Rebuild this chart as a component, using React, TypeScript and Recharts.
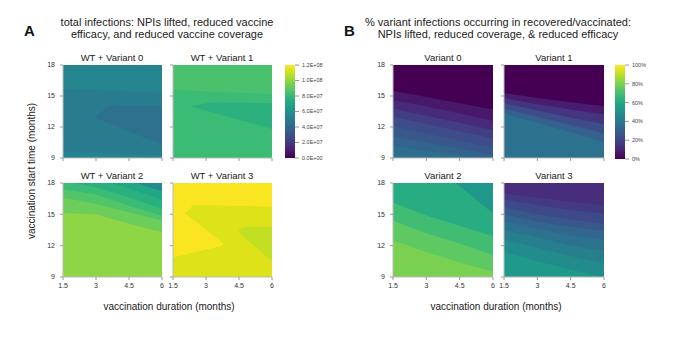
import { ComposedChart, Area, Bar, XAxis, YAxis, CartesianGrid } from 'recharts';

type Cell = number | [number, number] | null;

const durations = [1.5, 3, 4.5, 6];
const startTimes = [9, 12, 15, 18];
const viridis = ['#440154', '#482475', '#414487', '#355f8d', '#2a788e', '#21918c', '#22a884', '#44bf70', '#7ad151', '#bddf26', '#fde725'];

// colour bar ticks
const infectionTicks = [0, 2e7, 4e7, 6e7, 8e7, 1e8, 1.2e8];
const shareTicks = [0, 20, 40, 60, 80, 100];

// A: WT + Variant 0 (contour lines as start time per duration; ranged cells are closed regions)
const a0Durations = [1.5, 2.95, 3.6, 6];
const a0Upper: Cell[] = [15.7, 15.6, 15.5, 15.3];
const a0Floor: Cell[] = [9.6, 9.5, 9.45, 9.3];
const a0Core: Cell[] = [null, [12.9, 12.9], [12.35, 14.1], [10.3, 14.0]];

// A: WT + Variant 1
const a1Durations = [1.5, 2.26, 3.3, 6];
const a1Upper: Cell[] = [15.6, 15.5, 15.4, 15.2];
const a1Core: Cell[] = [null, [14.0, 14.0], [13.4, 14.4], [11.8, 14.3]];

// A: WT + Variant 2
const a2Contours: Cell[][] = [
  [19.5, 19.0, 18.2, 17.2],
  [18.8, 18.4, 17.5, 16.4],
  [18.2, 17.6, 16.6, 15.5],
  [17.4, 16.9, 15.8, 14.9],
  [16.6, 16.0, 15.2, 14.4],
  [15.1, 15.0, 14.1, 13.3],
];

// A: WT + Variant 3
const a3Durations = [1.5, 2.05, 2.42, 3.7, 3.8, 4.47, 4.62, 4.85, 6];
const a3Lower: Cell[] = [10.9, 11.15, 11.35, 11.95, 12.25, 12.5, 12.5, 12.5, 12.5];
const a3Middle: Cell[] = [null, [15.1, 15.1], [14.5, 15.9], [12.35, 15.85], [12.2, 15.85], [12.2, 15.8], [12.2, 15.8], [12.2, 15.8], [12.2, 15.7]];
const a3Pocket: Cell[] = [null, null, null, null, null, [13.5, 13.5], [13.0, 13.7], [12.6, 13.8], [10.5, 13.8]];

// B: Variant 0
const b0Contours: Cell[][] = [
  [15.5, 14.9, 14.3, 13.7],
  [14.6, 14.0, 13.3, 12.6],
  [13.8, 13.1, 12.4, 11.7],
  [13.0, 12.3, 11.6, 10.9],
  [12.1, 11.4, 10.7, 10.0],
  [11.1, 10.5, 9.9, 9.3],
  [10.2, 9.7, 9.2, 8.7],
];

// B: Variant 1
const b1Contours: Cell[][] = [
  [15.3, 14.8, 14.4, 14.0],
  [14.8, 14.2, 13.7, 13.2],
  [14.3, 13.6, 12.9, 12.3],
  [13.8, 13.0, 12.2, 11.4],
  [13.3, 12.4, 11.5, 10.5],
];

// B: Variant 2
const b2Contours: Cell[][] = [
  [22.0, 20.2, 17.7, 15.1],
  [16.1, 14.9, 13.9, 12.9],
  [14.4, 13.2, 12.2, 11.1],
  [12.5, 11.4, 10.4, 9.5],
];

// B: Variant 3
const b3Contours: Cell[][] = [
  [17.0, 16.6, 16.2, 15.9],
  [16.4, 15.9, 15.4, 15.1],
  [15.7, 15.0, 14.5, 14.1],
  [15.0, 14.3, 13.8, 13.4],
  [14.3, 13.6, 13.0, 12.6],
  [13.5, 12.8, 12.0, 11.5],
  [12.6, 11.8, 11.0, 10.3],
  [11.4, 10.5, 9.7, 9.0],
];

const font = "'Liberation Sans', Arial, Helvetica, sans-serif";
const tickStyle = { fontSize: 7, fill: '#333', fontFamily: font };

type ContourProps = {
  left: number;
  top: number;
  width: number;
  height: number;
  xs: number[];
  layers: Cell[][];
  fills: string[];
  background: string;
  showX: boolean;
  showY: boolean;
};

function Contour({ left, top, width, height, xs, layers, fills, background, showX, showY }: ContourProps) {
  const data = xs.map((x, i) => {
    const row: Record<string, unknown> = { x };
    layers.forEach((layer, j) => {
      row[`c${j}`] = layer[i];
    });
    return row;
  });
  const axisW = 30;
  const mTop = 4;
  const mRight = 6;
  const axisH = 22;
  return (
    <div style={{ position: 'absolute', left: left - axisW, top: top - mTop }}>
      <ComposedChart
        width={width + axisW + mRight}
        height={height + mTop + axisH}
        data={data}
        margin={{ top: mTop, right: mRight, left: 0, bottom: 0 }}
      >
        <CartesianGrid fill={background} stroke="none" />
        {layers.map((_, j) => (
          <Area
            key={j}
            dataKey={`c${j}`}
            type="linear"
            baseValue={9}
            fill={fills[j]}
            fillOpacity={1}
            stroke="none"
            isAnimationActive={false}
          />
        ))}
        <XAxis
          dataKey="x"
          type="number"
          domain={[1.5, 6]}
          ticks={durations}
          interval={0}
          height={axisH}
          tick={tickStyle}
          tickFormatter={showX ? undefined : () => ''}
          tickSize={3}
          tickMargin={3}
          tickLine={{ stroke: '#999' }}
          axisLine={{ stroke: '#bbb' }}
        />
        <YAxis
          type="number"
          domain={[9, 18]}
          ticks={startTimes}
          allowDataOverflow
          interval={0}
          width={axisW}
          tick={tickStyle}
          tickFormatter={showY ? undefined : () => ''}
          tickSize={3}
          tickMargin={5}
          tickLine={{ stroke: '#999' }}
          axisLine={{ stroke: '#bbb' }}
        />
      </ComposedChart>
    </div>
  );
}

function sci(v: number) {
  const [m, e] = v.toExponential(1).split('e');
  return `${m}E${e[0]}${e.slice(1).padStart(2, '0')}`;
}

function ColorBar({ left, top, height, id, ticks, format }: { left: number; top: number; height: number; id: string; ticks: number[]; format: (v: number) => string }) {
  const max = ticks[ticks.length - 1];
  return (
    <div style={{ position: 'absolute', left, top: top - 4 }}>
      <ComposedChart width={44} height={height + 8} data={[{ name: 'scale', value: max }]} margin={{ top: 4, right: 0, left: 0, bottom: 4 }} barCategoryGap={0}>
        <defs>
          <linearGradient id={id} x1="0" y1="1" x2="0" y2="0">
            {viridis.map((c, i) => (
              <stop key={c} offset={i / (viridis.length - 1)} stopColor={c} />
            ))}
          </linearGradient>
        </defs>
        <XAxis dataKey="name" type="category" hide />
        <YAxis
          orientation="right"
          type="number"
          domain={[0, max]}
          ticks={ticks}
          interval={0}
          width={34}
          tickFormatter={format}
          tick={{ fontSize: 5.5, fill: '#444', fontFamily: font, textAnchor: 'start' }}
          tickSize={4}
          tickMargin={3}
          tickLine={{ stroke: '#999' }}
          axisLine={false}
        />
        <Bar dataKey="value" fill={`url(#${id})`} isAnimationActive={false} />
      </ComposedChart>
    </div>
  );
}

export default function App() {
  const A = { l: 63, r: 173, w: 99 };
  const B = { l: 393, r: 504, w: 100 };
  const rowTop = 65;
  const rowBottom = 183;
  const hTop = 93;
  const hBottom = 94;
  return (
    <div style={{ position: 'absolute', left: 0, top: 0, width: 700, height: 344, background: '#fff', fontFamily: font, overflow: 'hidden' }}>
      <Contour left={A.l} top={rowTop} width={A.w} height={hTop} xs={a0Durations}
        layers={[a0Upper, a0Floor, a0Core]} fills={['#297b8e', '#25858e', '#2d718e']} background="#25858e" showX={false} showY />
      <Contour left={A.r} top={rowTop} width={A.w} height={hTop} xs={a1Durations}
        layers={[a1Upper, a1Core]} fills={['#3bbb75', '#2cb17e']} background="#4ac16d" showX={false} showY={false} />
      <Contour left={A.l} top={rowBottom} width={A.w} height={hBottom} xs={durations}
        layers={a2Contours} fills={['#22a785', '#2ab07f', '#3bbb75', '#52c569', '#6ccd5a', '#8ed645']} background="#238a8d" showX showY />
      <Contour left={A.r} top={rowBottom} width={A.w} height={hBottom} xs={a3Durations}
        layers={[a3Lower, a3Middle, a3Pocket]} fills={['#dde318', '#dde318', '#c2df23']} background="#f9e621" showX showY={false} />

      <Contour left={B.l} top={rowTop} width={B.w} height={hTop} xs={durations}
        layers={b0Contours} fills={['#48186a', '#472a7a', '#433d84', '#3e4c8a', '#38588c', '#32648e', '#2d6f8e']} background="#440154" showX={false} showY />
      <Contour left={B.r} top={rowTop} width={B.w} height={hTop} xs={durations}
        layers={b1Contours} fills={['#481c6e', '#453581', '#3d4d8a', '#34618d', '#2c728e']} background="#440154" showX={false} showY={false} />
      <Contour left={B.l} top={rowBottom} width={B.w} height={hBottom} xs={durations}
        layers={b2Contours} fills={['#27ad81', '#40bd72', '#5ec962', '#7ad151']} background="#1f988b" showX showY />
      <Contour left={B.r} top={rowBottom} width={B.w} height={hBottom} xs={durations}
        layers={b3Contours} fills={['#443983', '#3e4989', '#38588c', '#31668e', '#2c728e', '#277f8e', '#228c8d', '#1f9a8a']} background="#472d7b" showX showY={false} />

      <ColorBar left={285} top={65} height={93} id="vir-a" ticks={infectionTicks} format={sci} />
      <ColorBar left={615} top={65} height={94} id="vir-b" ticks={shareTicks} format={(v) => `${v}%`} />

      <svg width={700} height={344} style={{ position: 'absolute', left: 0, top: 0, pointerEvents: 'none' }} fontFamily={font}>
        <text x={24} y={36} fontSize={15} fontWeight="bold" fill="#111">A</text>
        <text x={344} y={36} fontSize={15} fontWeight="bold" fill="#111">B</text>
        <text x={167} y={26} fontSize={11} textAnchor="middle" fill="#222">total infections: NPIs lifted, reduced vaccine</text>
        <text x={167} y={38} fontSize={11} textAnchor="middle" fill="#222">efficacy, and reduced vaccine coverage</text>
        <text x={498} y={26} fontSize={11} textAnchor="middle" fill="#222">% variant infections occurring in recovered/vaccinated:</text>
        <text x={498} y={38} fontSize={11} textAnchor="middle" fill="#222">NPIs lifted, reduced coverage, &amp; reduced efficacy</text>

        <text x={112} y={61} fontSize={9.5} textAnchor="middle" fill="#222">WT + Variant 0</text>
        <text x={222} y={61} fontSize={9.5} textAnchor="middle" fill="#222">WT + Variant 1</text>
        <text x={112} y={179} fontSize={9.5} textAnchor="middle" fill="#222">WT + Variant 2</text>
        <text x={222} y={179} fontSize={9.5} textAnchor="middle" fill="#222">WT + Variant 3</text>
        <text x={443} y={61} fontSize={9.5} textAnchor="middle" fill="#222">Variant 0</text>
        <text x={554} y={61} fontSize={9.5} textAnchor="middle" fill="#222">Variant 1</text>
        <text x={443} y={179} fontSize={9.5} textAnchor="middle" fill="#222">Variant 2</text>
        <text x={554} y={179} fontSize={9.5} textAnchor="middle" fill="#222">Variant 3</text>

        <text x={169} y={310} fontSize={10} textAnchor="middle" fill="#222">vaccination duration (months)</text>
        <text x={496} y={310} fontSize={10} textAnchor="middle" fill="#222">vaccination duration (months)</text>
        <text transform="translate(35,171) rotate(-90)" fontSize={10} textAnchor="middle" fill="#222">vaccination start time (months)</text>
      </svg>
    </div>
  );
}
